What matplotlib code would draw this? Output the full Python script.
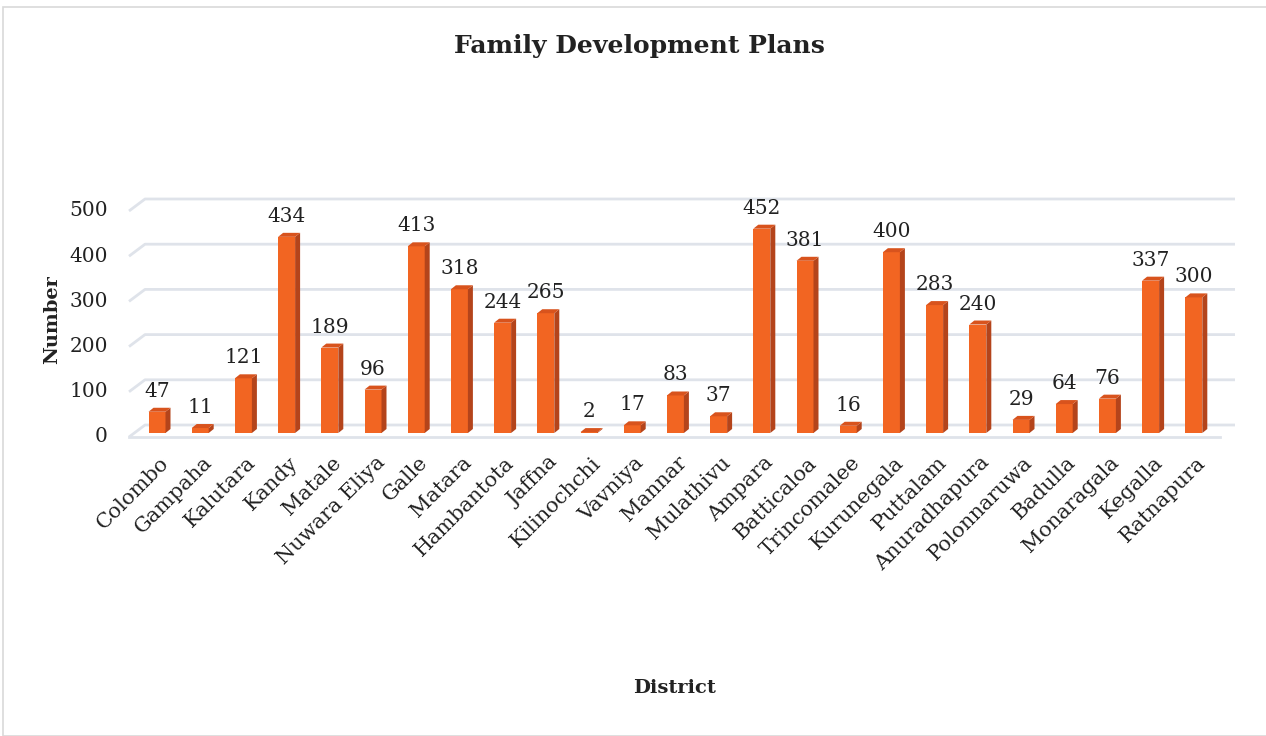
import matplotlib
matplotlib.use("Agg")
import matplotlib.pyplot as plt
from matplotlib.patches import Polygon, Rectangle

districts = ["Colombo", "Gampaha", "Kalutara", "Kandy", "Matale", "Nuwara Eliya",
             "Galle", "Matara", "Hambantota", "Jaffna", "Kilinochchi", "Vavniya",
             "Mannar", "Mulathivu", "Ampara", "Batticaloa", "Trincomalee",
             "Kurunegala", "Puttalam", "Anuradhapura", "Polonnaruwa", "Badulla",
             "Monaragala", "Kegalla", "Ratnapura"]
plans = [47, 11, 121, 434, 189, 96, 413, 318, 244, 265, 2, 17, 83, 37, 452,
         381, 16, 400, 283, 240, 29, 64, 76, 337, 300]
yticks = [0, 100, 200, 300, 400, 500]

plt.rcParams['font.family'] = ['DejaVu Serif']

W, H = 1266, 736
fig = plt.figure(figsize=(W / 100, H / 100), dpi=100)

# light frame around the chart
fig.patches.append(Rectangle((3 / W, 0), 1, 1 - 7 / H, transform=fig.transFigure,
                             fill=False, edgecolor="#d9d9d9", linewidth=1.2))

ax = fig.add_axes([129 / W, 1 - 440 / H, (1235 - 129) / W, 250 / H])
px_x = 1 / 43.2     # data units per pixel, x
px_y = 1 / 0.452    # data units per pixel, y
x0 = (129 - 157) / 43.2
ax.set_xlim(x0, (1235 - 157) / 43.2)
ax.set_ylim(-7 * px_y, 243 * px_y)
ax.axis("off")

# back wall gridlines with the slanted floor edge on the left
grid_c = "#dfe3ea"
back = 8 * px_y
front = 4 * px_y
xb = (145 - 157) / 43.2
for v in yticks:
    ax.plot([x0, xb, (1235 - 157) / 43.2], [v - front, v + back, v + back],
            color=grid_c, lw=2, solid_capstyle="butt", clip_on=False, zorder=1)
    ax.text(108 / 43.2 - 157 / 43.2, v - front, str(v), ha="right", va="center",
            fontsize=14.5, color="#222222", clip_on=False)
ax.plot([x0, (1220 - 157) / 43.2], [-front, -front], color=grid_c, lw=2,
        clip_on=False, zorder=1)

# bars: front face via bar(), side and top faces as polygons
bw = 17 * px_x
dx = 5 * px_x
dy = 4 * px_y
xs = list(range(len(districts)))
ax.bar(xs, plans, width=bw, color="#F26522", edgecolor="none", zorder=3)
for i, v in zip(xs, plans):
    r = i + bw / 2
    l = i - bw / 2
    ax.add_patch(Polygon([(r, 0), (r + dx, dy), (r + dx, v + dy), (r, v)],
                         closed=True, facecolor="#B4441B", edgecolor="none", zorder=3))
    ax.add_patch(Polygon([(l, v), (r, v), (r + dx, v + dy), (l + dx, v + dy)],
                         closed=True, facecolor="#D8531D", edgecolor="none", zorder=3))
    ax.text(i, v + 15 * px_y, str(v), ha="center", va="baseline", fontsize=14.5,
            color="#222222", zorder=4)
    ax.text(i + 0.05, -20 * px_y, districts[i], ha="right", va="top", rotation=45,
            rotation_mode="anchor", fontsize=15, color="#222222", clip_on=False)

fig.text(639 / W, 1 - 46 / H, "Family Development Plans", ha="center", va="center",
         fontsize=18, fontweight="bold", color="#222222")
fig.text(52 / W, 1 - 320 / H, "Number", ha="center", va="center", rotation=90,
         fontsize=14, fontweight="bold", color="#222222")
fig.text(675 / W, 1 - 688 / H, "District", ha="center", va="center",
         fontsize=14, fontweight="bold", color="#222222")

fig.savefig("out.png", dpi=100, facecolor="white")
